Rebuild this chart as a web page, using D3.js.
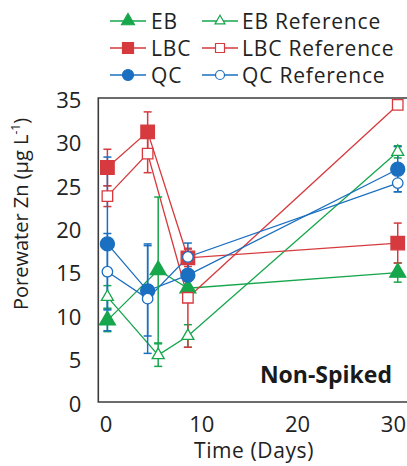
<!DOCTYPE html>
<html>
<head>
<meta charset="utf-8">
<script src="https://cdn.jsdelivr.net/npm/d3@7"></script>
<style>
  body { margin: 0; background: #fff; }
  svg { display: block; font-family: "Open Sans", sans-serif; }
</style>
</head>
<body>
<svg id="chart" width="407" height="466"></svg>
<script>
// sampling days (EB was sampled a day later at the second point)
const daysEB = [0.2, 5.5, 8.6, 30.5];
const daysOther = [0.2, 4.4, 8.6, 30.5];

// porewater Zn means and error (ug/L)
const ebVals = [9.4, 15.2, 13.1, 14.9];
const ebErr = [1.3, 8.4, 0.8, 1.1];
const ebRefVals = [12.1, 5.4, 7.6, 28.8];
const ebRefErr = [1.3, 1.3, 1.3, 0.7];
const lbcVals = [27.0, 31.1, 16.6, 18.3];
const lbcErr = [2.1, 2.3, 1.0, 2.3];
const lbcRefVals = [23.7, 28.6, 12.0, 34.2];
const lbcRefErr = [1.2, 2.2, 5.7, 0.5];
const qcVals = [18.2, 12.8, 14.6, 26.8];
const qcErr = [10.0, 5.2, 1.5, 2.6];
const qcRefVals = [15.0, 11.9, 16.7, 25.2];
const qcRefErr = [4.4, 6.3, 1.6, 1.0];

const yTicks = [0, 5, 10, 15, 20, 25, 30, 35];
const xTicks = [0, 10, 20, 30];

const green = '#16a64c', red = '#d63a3e', blue = '#1a6fc0';

const series = [
  { name: 'EB', days: daysEB, vals: ebVals, err: ebErr, color: green, shape: 'tri', filled: true },
  { name: 'EB Reference', days: daysEB, vals: ebRefVals, err: ebRefErr, color: green, shape: 'tri', filled: false },
  { name: 'LBC', days: daysOther, vals: lbcVals, err: lbcErr, color: red, shape: 'sq', filled: true },
  { name: 'LBC Reference', days: daysOther, vals: lbcRefVals, err: lbcRefErr, color: red, shape: 'sq', filled: false },
  { name: 'QC', days: daysOther, vals: qcVals, err: qcErr, color: blue, shape: 'circ', filled: true },
  { name: 'QC Reference', days: daysOther, vals: qcRefVals, err: qcRefErr, color: blue, shape: 'circ', filled: false }
];

const svg = d3.select('#chart');

const x = d3.scaleLinear().domain([-0.75, 32]).range([98.3, 412.1]);
const y = d3.scaleLinear().domain([0, 35]).range([402, 98]);

// marker path by shape, w = approx width in px
function markerPath(shape, w) {
  if (shape === 'sq') return d3.symbol(d3.symbolSquare, w * w)();
  if (shape === 'circ') return d3.symbol(d3.symbolCircle, Math.PI * (w / 2) * (w / 2))();
  return d3.symbol(d3.symbolTriangle, Math.sqrt(3) / 4 * w * w)();
}

// frame
svg.append('path')
  .attr('d', `M${x(32) + 5},${y(35)} H${x(-0.75)} V${y(0)} H${x(32) + 5}`)
  .attr('fill', 'none')
  .attr('stroke', '#3c3c3c')
  .attr('stroke-width', 1.6);

// axes
const yAxis = svg.append('g')
  .attr('transform', `translate(${x(-0.75)},0)`)
  .call(d3.axisLeft(y).tickValues(yTicks).tickSize(0).tickPadding(17));
yAxis.select('.domain').remove();
yAxis.selectAll('text').attr('font-size', 22).attr('fill', '#222').attr('font-family', '"Open Sans", sans-serif').attr('dy', '0.42em');

const xAxis = svg.append('g')
  .attr('transform', `translate(0,${y(0)})`)
  .call(d3.axisBottom(x).tickValues(xTicks).tickSize(0).tickPadding(14));
xAxis.select('.domain').remove();
xAxis.selectAll('text').attr('font-size', 22).attr('fill', '#222').attr('font-family', '"Open Sans", sans-serif');

// axis titles
svg.append('text')
  .attr('x', 254).attr('y', 458)
  .attr('text-anchor', 'middle')
  .attr('font-size', 21).attr('letter-spacing', 0.6).attr('fill', '#222')
  .text('Time (Days)');

const yTitle = svg.append('text')
  .attr('transform', 'translate(28,214) rotate(-90)')
  .attr('text-anchor', 'middle')
  .attr('font-size', 20).attr('fill', '#222');
yTitle.append('tspan').text('Porewater Zn (µg L');
yTitle.append('tspan').attr('font-size', 12).attr('dy', -8).text('-1');
yTitle.append('tspan').attr('dy', 8).text(')');

svg.append('text')
  .attr('x', 392).attr('y', 383)
  .attr('text-anchor', 'end')
  .attr('font-size', 23).attr('font-weight', 'bold').attr('fill', '#1a1a1a')
  .text('Non-Spiked');

const plot = svg.append('g');

// connecting lines
series.forEach(s => {
  const pts = s.days.map((d, i) => [x(d), y(s.vals[i])]);
  plot.append('path')
    .attr('d', d3.line()(pts))
    .attr('fill', 'none')
    .attr('stroke', s.color)
    .attr('stroke-width', 1.3);
});

// error bars
series.forEach(s => {
  const g = plot.append('g').attr('stroke', s.color).attr('stroke-width', 1.5);
  s.days.forEach((d, i) => {
    const cx = x(d), lo = y(s.vals[i] - s.err[i]), hi = y(s.vals[i] + s.err[i]);
    g.append('line').attr('x1', cx).attr('x2', cx).attr('y1', lo).attr('y2', hi);
    g.append('line').attr('x1', cx - 4).attr('x2', cx + 4).attr('y1', lo).attr('y2', lo);
    g.append('line').attr('x1', cx - 4).attr('x2', cx + 4).attr('y1', hi).attr('y2', hi);
  });
});

// markers
series.forEach(s => {
  const w = s.filled ? (s.shape === 'tri' ? 16 : (s.shape === 'sq' ? 13.5 : 14)) : (s.shape === 'tri' ? 12 : 10.5);
  s.days.forEach((d, i) => {
    plot.append('path')
      .attr('d', markerPath(s.shape, w))
      .attr('transform', `translate(${x(d)},${y(s.vals[i])})`)
      .attr('fill', s.filled ? s.color : '#fff')
      .attr('stroke', s.color)
      .attr('stroke-width', 1.3);
  });
});

// legend
const legendRows = [['EB', 'EB Reference'], ['LBC', 'LBC Reference'], ['QC', 'QC Reference']];
const legendCols = [{ x1: 110, x2: 146, tx: 151 }, { x1: 202, x2: 238, tx: 242 }];
legendRows.forEach((row, r) => {
  const ly = 21 + r * 27;
  row.forEach((name, c) => {
    const s = series.find(d => d.name === name);
    const col = legendCols[c];
    const g = svg.append('g');
    g.append('line')
      .attr('x1', col.x1).attr('x2', col.x2).attr('y1', ly).attr('y2', ly)
      .attr('stroke', s.color).attr('stroke-width', 1.3);
    const w = s.filled ? (s.shape === 'tri' ? 13 : 11) : (s.shape === 'tri' ? 10 : 9);
    g.append('path')
      .attr('d', markerPath(s.shape, w))
      .attr('transform', `translate(${(col.x1 + col.x2) / 2},${ly})`)
      .attr('fill', s.filled ? s.color : '#fff')
      .attr('stroke', s.color).attr('stroke-width', 1.2);
    g.append('text')
      .attr('x', col.tx).attr('y', ly).attr('dy', '0.36em')
      .attr('font-size', 21).attr('letter-spacing', 0.8).attr('fill', '#222')
      .text(name);
  });
});
</script>
</body>
</html>
